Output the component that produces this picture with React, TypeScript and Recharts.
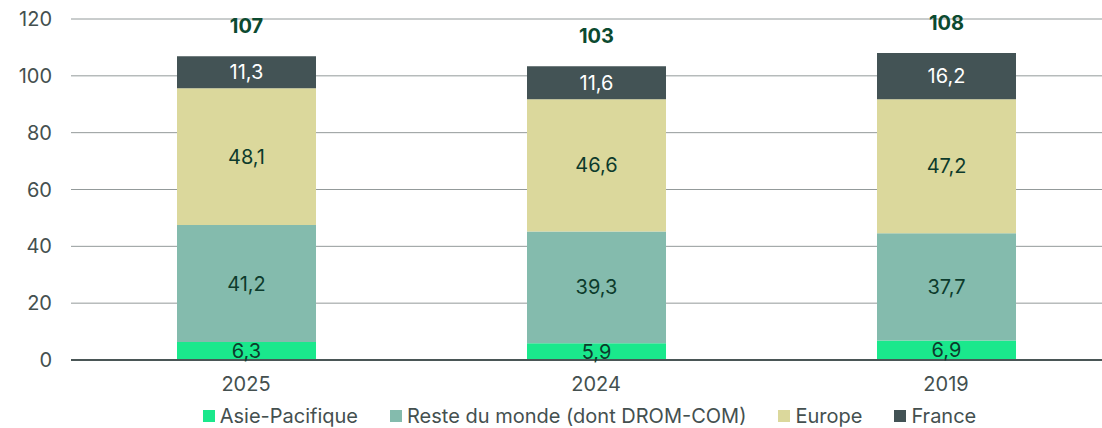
import React from "react";
import {
  BarChart,
  Bar,
  XAxis,
  YAxis,
  CartesianGrid,
  Legend,
  LabelList,
  ReferenceLine,
} from "recharts";

const years = ["2025", "2024", "2019"];
const asiePacifique = [6.3, 5.9, 6.9];
const resteDuMonde = [41.2, 39.3, 37.7];
const europe = [48.1, 46.6, 47.2];
const france = [11.3, 11.6, 16.2];
const totals = [107, 103, 108];
const yTicks = [0, 20, 40, 60, 80, 100, 120];

const series = [
  { key: "asie", name: "Asie-Pacifique", color: "#1ae88c", label: "#0d3b2c" },
  { key: "reste", name: "Reste du monde (dont DROM-COM)", color: "#84bbad", label: "#0d3b2c" },
  { key: "europe", name: "Europe", color: "#dbd89c", label: "#0d3b2c" },
  { key: "france", name: "France", color: "#435355", label: "#ffffff" },
];

const data = years.map((year, i) => ({
  year,
  asie: asiePacifique[i],
  reste: resteDuMonde[i],
  europe: europe[i],
  france: france[i],
  total: totals[i],
}));

const FONT = "Inter, 'Noto Sans', sans-serif";
const fmt = (v: number) => v.toFixed(1).replace(".", ",");

function TotalLabel(props: any) {
  const { x, y, width, index } = props;
  return (
    <text
      x={x + width / 2}
      y={y - 30}
      textAnchor="middle"
      dominantBaseline="central"
      fill="#0b4a30"
      fontWeight={700}
      fontSize={20}
      fontFamily={FONT}
    >
      {totals[index]}
    </text>
  );
}

function LegendContent() {
  return (
    <div
      style={{
        display: "flex",
        justifyContent: "center",
        gap: 32,
        paddingTop: 15,
        fontFamily: FONT,
        fontSize: 20,
        lineHeight: "22px",
        color: "#44504f",
        marginLeft: 58,
      }}
    >
      {series.map((s) => (
        <div key={s.key} style={{ display: "flex", alignItems: "center" }}>
          <span
            style={{
              width: 12,
              height: 12,
              background: s.color,
              marginRight: 5,
              display: "inline-block",
            }}
          />
          {s.name}
        </div>
      ))}
    </div>
  );
}

export default function App() {
  return (
    <div
      style={{
        position: "fixed",
        left: 0,
        top: 0,
        width: 1102,
        height: 428,
        overflow: "hidden",
        background: "#ffffff",
      }}
    >
      <BarChart
        width={1121}
        height={428}
        data={data}
        margin={{ top: 19, right: 0, bottom: 0, left: 0 }}
      >
        <CartesianGrid vertical={false} stroke="#939a9a" />
        <XAxis
          dataKey="year"
          axisLine={false}
          tickLine={false}
          height={30}
          tickMargin={11}
          tick={{ fill: "#44504f", fontSize: 20, fontFamily: FONT }}
        />
        <YAxis
          width={71}
          domain={[0, 120]}
          ticks={yTicks}
          axisLine={false}
          tickLine={false}
          tickMargin={13}
          tick={{ fill: "#44504f", fontSize: 20, fontFamily: FONT }}
        />
        <Legend
          verticalAlign="bottom"
          wrapperStyle={{ height: 38 }}
          content={<LegendContent />}
        />
        {series.map((s, i) => (
          <Bar
            key={s.key}
            dataKey={s.key}
            name={s.name}
            stackId="a"
            fill={s.color}
            barSize={139}
            isAnimationActive={false}
          >
            <LabelList
              dataKey={s.key}
              position="center"
              formatter={(v: any) => fmt(Number(v))}
              fill={s.label}
              fontSize={20}
              fontFamily={FONT}
            />
            {i === series.length - 1 && (
              <LabelList dataKey="total" content={<TotalLabel />} />
            )}
          </Bar>
        ))}
        <ReferenceLine y={0} stroke="#4a5656" strokeWidth={2} />
      </BarChart>
    </div>
  );
}
